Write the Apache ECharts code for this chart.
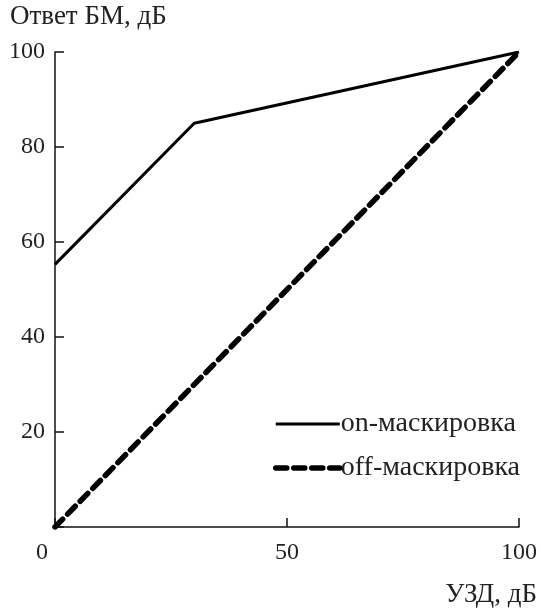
<!DOCTYPE html>
<html><head><meta charset="utf-8">
<script src="https://cdn.jsdelivr.net/npm/echarts@6/dist/echarts.min.js"></script>
<style>html,body{margin:0;padding:0;background:#fff}#c{width:540px;height:615px}</style>
</head><body><div id="c"></div>
<script>
const xTicks = [0, 50, 100];
const yTicks = [20, 40, 60, 80, 100];
const onX = [0, 30, 100];
const onY = [55.3, 85, 100];
const offX = [0, 100];
const offY = [0, 100];
const seriesNames = ['on-маскировка', 'off-маскировка'];
const yTitle = 'Ответ БМ, дБ';
const xTitle = 'УЗД, дБ';

const FONT = '"Liberation Serif", "DejaVu Serif", serif';
const TXT = '#222';
const chart = echarts.init(document.getElementById('c'), null, {renderer: 'canvas'});
chart.setOption({
  animation: false,
  grid: {left: 55, right: 20, top: 52, bottom: 88},
  xAxis: {
    type: 'value', min: 0, max: 100, interval: 50,
    axisLine: {lineStyle: {color: '#111', width: 1.5}},
    axisTick: {inside: true, length: 9, lineStyle: {color: '#111', width: 1.5}},
    splitLine: {show: false},
    axisLabel: {
      margin: 14, color: TXT, fontFamily: FONT, fontSize: 24,
      formatter: v => xTicks.includes(v) ? (v === 0 ? '{z|0}' : String(v)) : '',
      rich: {z: {fontFamily: FONT, fontSize: 24, color: TXT, padding: [0, 26, 0, 0]}}
    }
  },
  yAxis: {
    type: 'value', min: 0, max: 100, interval: 20,
    axisLine: {lineStyle: {color: '#111', width: 1.5}},
    axisTick: {inside: true, length: 9, lineStyle: {color: '#111', width: 1.5}},
    splitLine: {show: false},
    axisLabel: {
      margin: 10, color: TXT, fontFamily: FONT, fontSize: 24,
      formatter: v => yTicks.includes(v) ? String(v) : ''
    }
  },
  legend: {
    orient: 'vertical', left: 268, top: 405, itemGap: 16,
    itemWidth: 64, itemHeight: 14,
    itemStyle: {opacity: 0},
    textStyle: {color: TXT, fontFamily: FONT, fontSize: 28, padding: [0, 0, 0, -4]},
    data: [
      {name: seriesNames[0], lineStyle: {width: 3}},
      {name: seriesNames[1], lineStyle: {width: 5.5}}
    ]
  },
  graphic: [
    {type: 'text', left: 10, top: 3, style: {text: yTitle, fill: TXT, font: '27px ' + FONT}},
    {type: 'text', right: 3, top: 581, style: {text: xTitle, fill: TXT, font: '27px ' + FONT}}
  ],
  series: [
    {name: seriesNames[0], type: 'line', symbol: 'none',
     data: onX.map((x, i) => [x, onY[i]]),
     lineStyle: {color: '#000', width: 3}, itemStyle: {color: '#000'}},
    {name: seriesNames[1], type: 'line', symbol: 'none',
     data: offX.map((x, i) => [x, offY[i]]),
     lineStyle: {color: '#000', width: 5.5, type: [11, 7], cap: 'round'}, itemStyle: {color: '#000'}}
  ]
});
</script></body></html>
